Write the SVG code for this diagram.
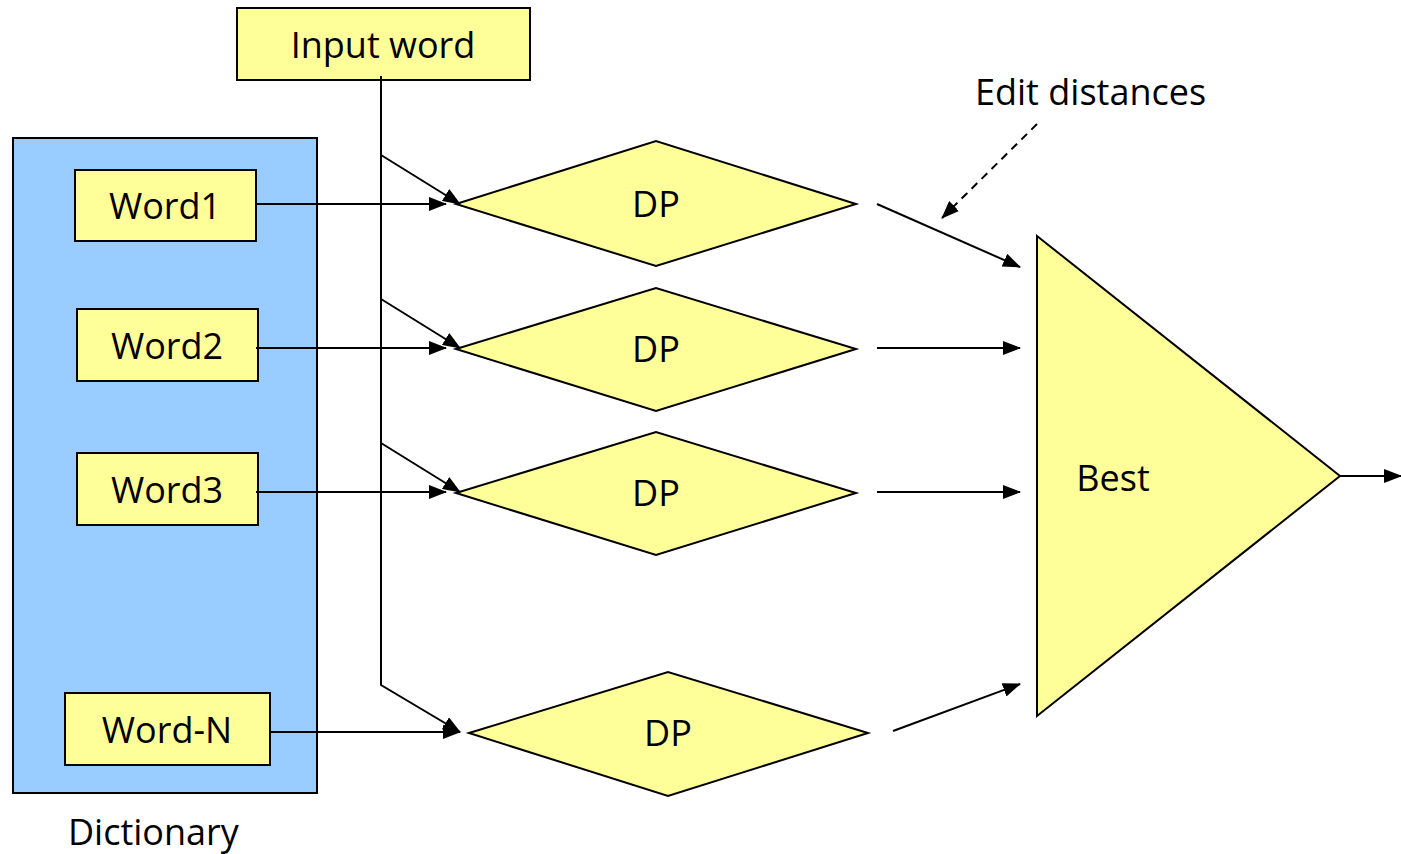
<svg xmlns="http://www.w3.org/2000/svg" width="1401" height="854" viewBox="0 0 1401 854">
<style>
.box{fill:#FFFF99;stroke:#000;stroke-width:2}
.dict{fill:#99CCFF;stroke:#000;stroke-width:2}
.t{font-family:"Open Sans","Liberation Sans",sans-serif;font-size:36px;fill:#000}
.c{text-anchor:middle}
.ln{stroke:#000;stroke-width:2;fill:none}
.dash{stroke-dasharray:8,6}
</style>
<defs>
<marker id="ah" markerWidth="18" markerHeight="14" refX="17" refY="7" orient="auto" markerUnits="userSpaceOnUse">
<path d="M0,0 L18,7 L0,14 Z" fill="#000"/>
</marker>
</defs>
<rect width="1401" height="854" fill="#fff"/>
<g id="dictionary">
<rect class="dict" x="13" y="138" width="304" height="655"/>
<text class="t" x="68" y="845">Dictionary</text>
</g>
<g id="input-word">
<rect class="box" x="237" y="8" width="293" height="72"/>
<text class="t c" x="383" y="58">Input word</text>
</g>
<g id="word1">
<rect class="box" x="75" y="170" width="181" height="71"/>
<text class="t c" x="165" y="219">Word1</text>
</g>
<g id="word2">
<rect class="box" x="77" y="309" width="181" height="72"/>
<text class="t c" x="167" y="359">Word2</text>
</g>
<g id="word3">
<rect class="box" x="77" y="453" width="181" height="72"/>
<text class="t c" x="167" y="503">Word3</text>
</g>
<g id="wordN">
<rect class="box" x="65" y="693" width="205" height="72"/>
<text class="t c" x="167" y="743">Word-N</text>
</g>
<g id="dp1">
<polygon class="box" points="456,204 656,141 856,204 656,266"/>
<text class="t c" x="656" y="217">DP</text>
</g>
<g id="dp2">
<polygon class="box" points="456,349 656,288 856,349 656,411"/>
<text class="t c" x="656" y="362">DP</text>
</g>
<g id="dp3">
<polygon class="box" points="456,493 656,432 856,493 656,555"/>
<text class="t c" x="656" y="506">DP</text>
</g>
<g id="dp4">
<polygon class="box" points="469,733 668,672 868,733 668,796"/>
<text class="t c" x="668" y="746">DP</text>
</g>
<g id="best">
<polygon class="box" points="1037,236 1340,476 1037,716"/>
<text class="t c" x="1113" y="491">Best</text>
</g>
<g id="edit-label">
<text class="t" x="975" y="105">Edit distances</text>
</g>
<g id="connectors">
<polyline class="ln" points="381,76 381,685 460,732" marker-end="url(#ah)"/>
<line class="ln" x1="381" y1="155" x2="460" y2="204" marker-end="url(#ah)"/>
<line class="ln" x1="381" y1="299" x2="460" y2="348" marker-end="url(#ah)"/>
<line class="ln" x1="381" y1="443" x2="460" y2="492" marker-end="url(#ah)"/>
<line class="ln" x1="256" y1="204" x2="446" y2="204" marker-end="url(#ah)"/>
<line class="ln" x1="256" y1="348" x2="446" y2="348" marker-end="url(#ah)"/>
<line class="ln" x1="256" y1="492" x2="446" y2="492" marker-end="url(#ah)"/>
<line class="ln" x1="270" y1="732" x2="460" y2="732" marker-end="url(#ah)"/>
<line class="ln" x1="877" y1="204" x2="1020" y2="267" marker-end="url(#ah)"/>
<line class="ln" x1="877" y1="348" x2="1020" y2="348" marker-end="url(#ah)"/>
<line class="ln" x1="877" y1="492" x2="1020" y2="492" marker-end="url(#ah)"/>
<line class="ln" x1="893" y1="731" x2="1020" y2="684" marker-end="url(#ah)"/>
<line class="ln" x1="1340" y1="476" x2="1401" y2="476" marker-end="url(#ah)"/>
<line class="ln dash" x1="1037" y1="124" x2="942" y2="218" marker-end="url(#ah)"/>
</g>
</svg>
